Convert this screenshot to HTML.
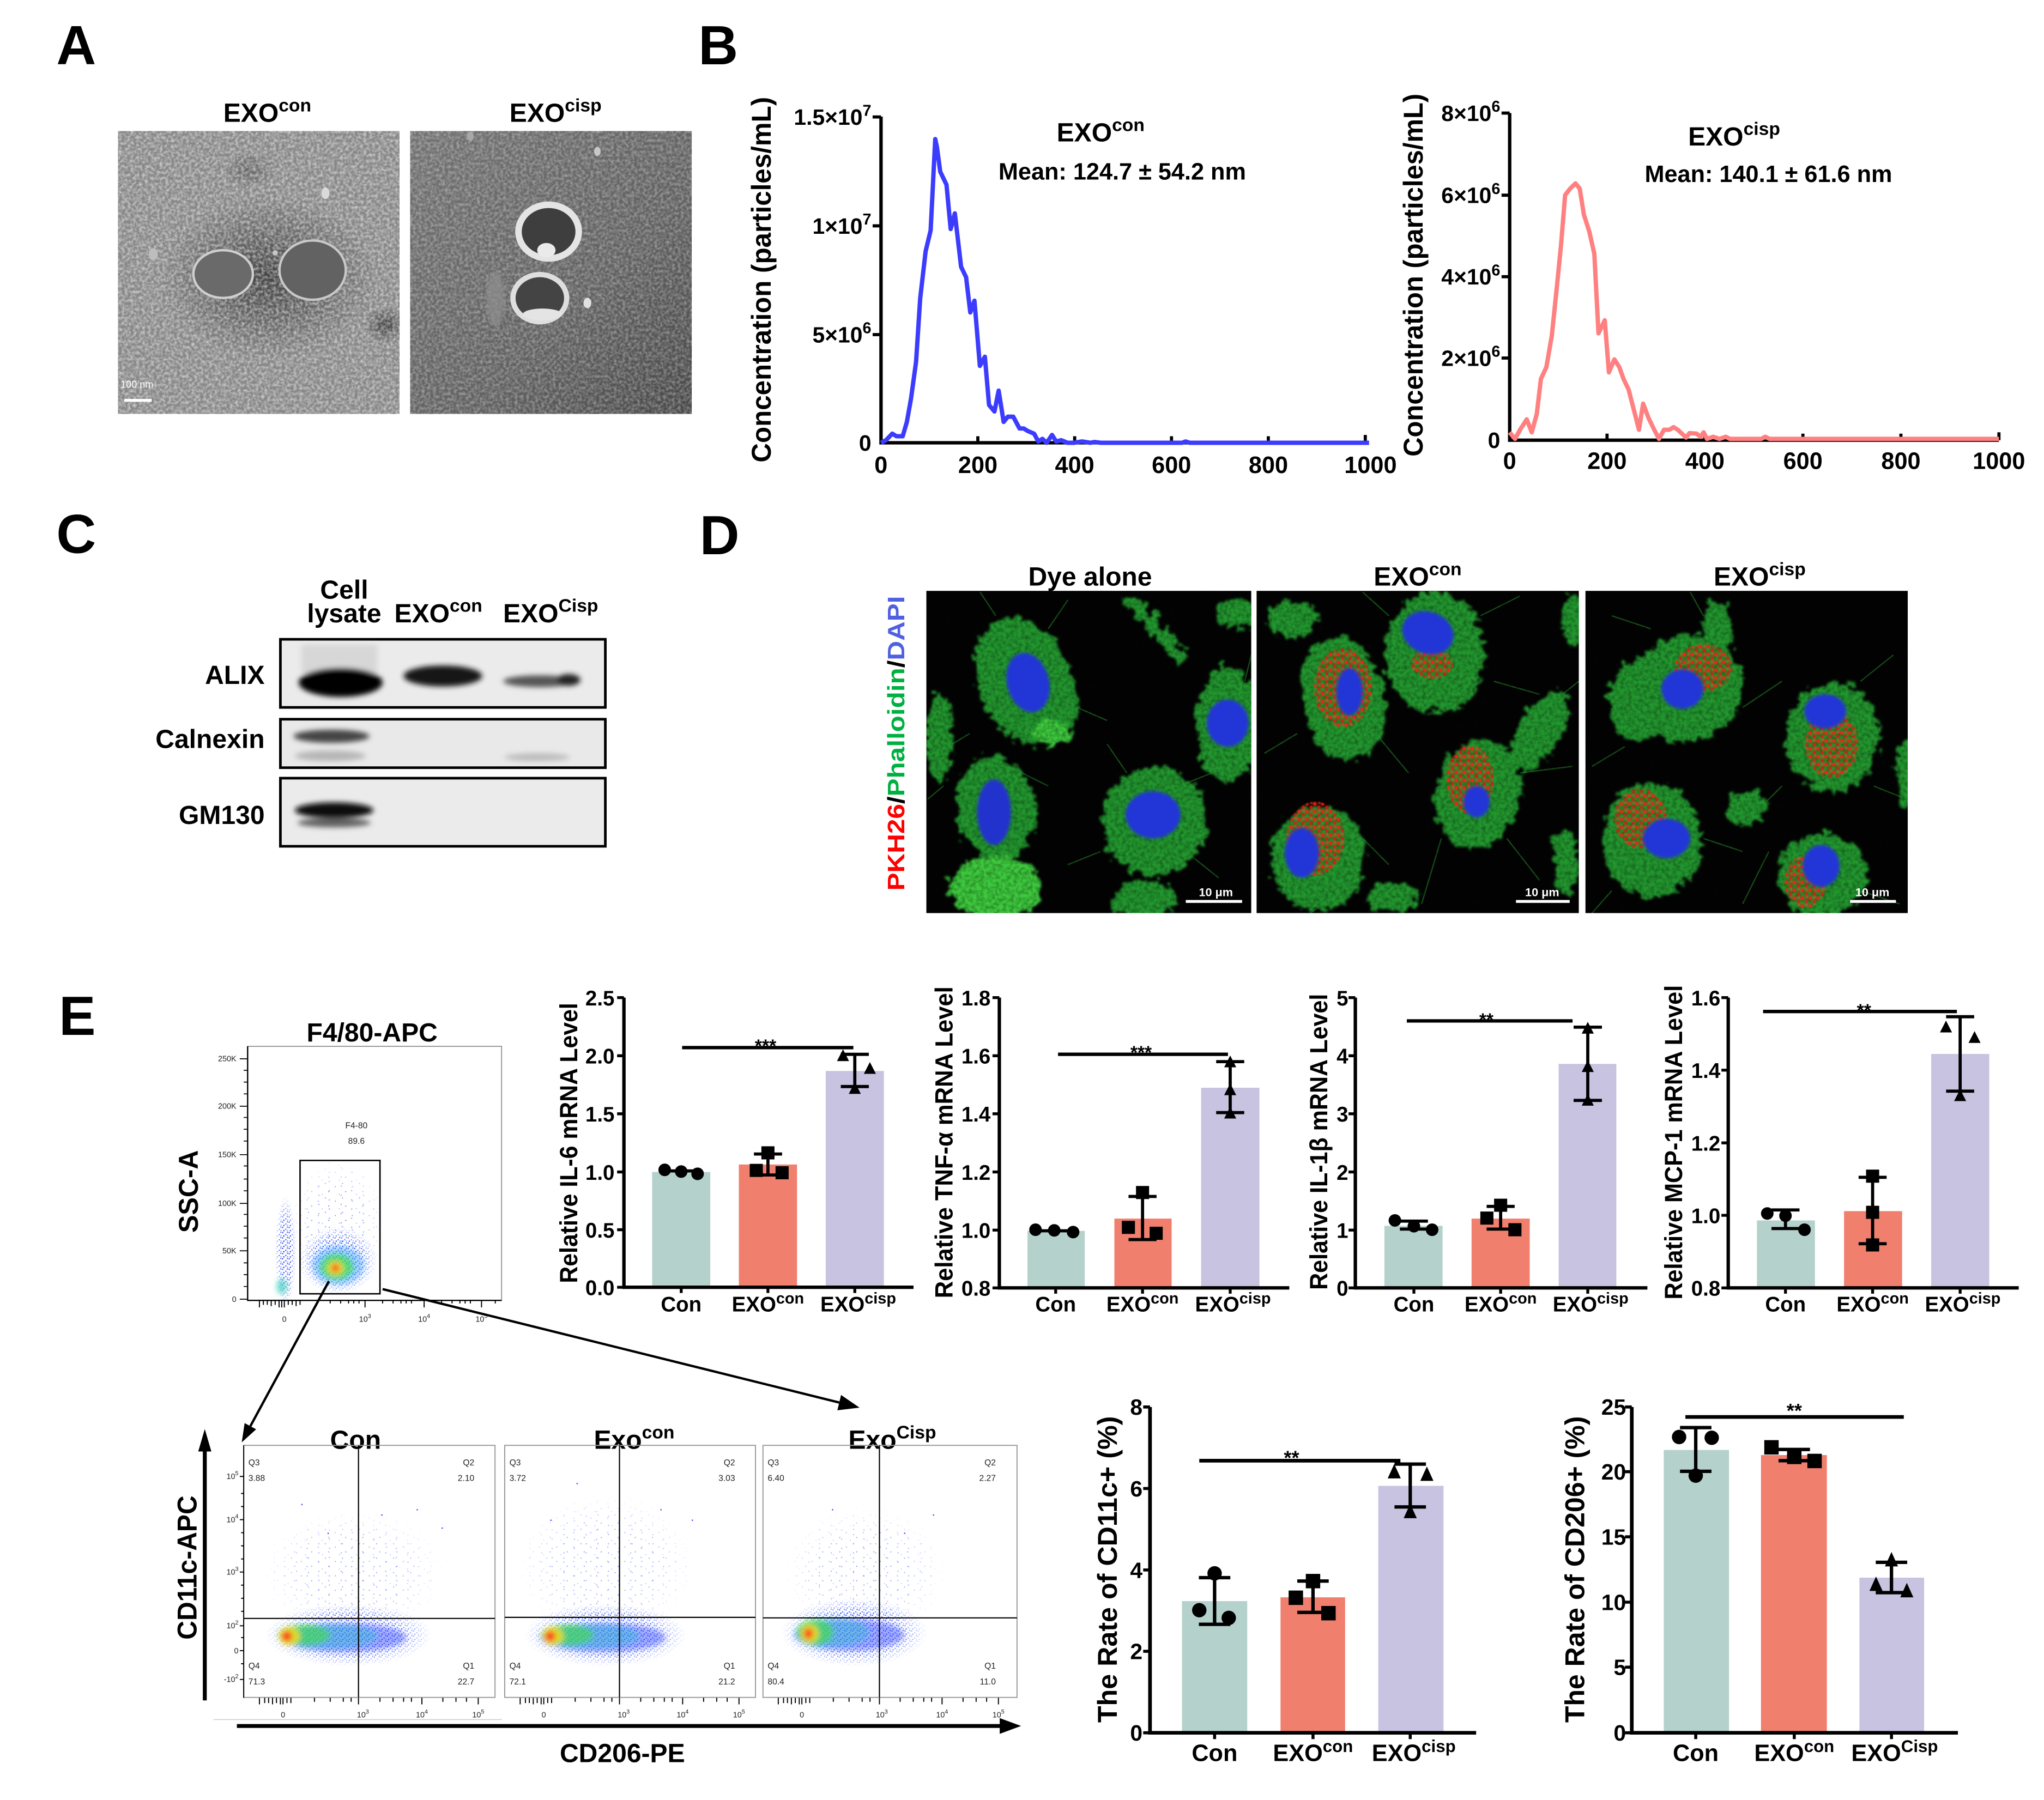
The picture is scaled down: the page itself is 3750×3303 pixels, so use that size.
<!DOCTYPE html>
<html><head><meta charset="utf-8"><style>html,body{margin:0;padding:0;background:#fff}svg{display:block}</style></head>
<body>
<svg xmlns="http://www.w3.org/2000/svg" width="3750" height="3303" viewBox="0 0 1560 1374" preserveAspectRatio="none" font-family="'Liberation Sans', Arial, sans-serif" font-weight="bold">
<defs>
  <filter id="grain" x="0" y="0" width="1" height="1">
    <feTurbulence type="fractalNoise" baseFrequency="0.45" numOctaves="2" seed="7" result="n"/>
    <feColorMatrix in="n" type="matrix" values="0 0 0 0 1  0 0 0 0 1  0 0 0 0 1  0 0 0 1.8 -0.6" result="w"/>
    <feComposite in="w" in2="SourceGraphic" operator="in"/>
  </filter>
  <filter id="grainD" x="0" y="0" width="1" height="1">
    <feTurbulence type="fractalNoise" baseFrequency="0.35" numOctaves="2" seed="11" result="n"/>
    <feColorMatrix in="n" type="matrix" values="0 0 0 0 0  0 0 0 0 0  0 0 0 0 0  0 0 0 1.6 -0.55" result="w"/>
    <feComposite in="w" in2="SourceGraphic" operator="in"/>
  </filter>
  <filter id="b1" x="-30%" y="-30%" width="160%" height="160%"><feGaussianBlur stdDeviation="1.2"/></filter>
  <filter id="b05" x="-30%" y="-30%" width="160%" height="160%"><feGaussianBlur stdDeviation="0.5"/></filter>
  <filter id="b2" x="-30%" y="-30%" width="160%" height="160%"><feGaussianBlur stdDeviation="2"/></filter>
  <filter id="rough" x="-20%" y="-20%" width="140%" height="140%">
    <feTurbulence type="turbulence" baseFrequency="0.11" numOctaves="2" seed="4" result="t"/>
    <feDisplacementMap in="SourceGraphic" in2="t" scale="12" xChannelSelector="R" yChannelSelector="G" result="d"/>
    <feGaussianBlur in="d" stdDeviation="0.9"/>
  </filter>
  <radialGradient id="emDark"><stop offset="0" stop-color="#303030" stop-opacity="0.8"/><stop offset="1" stop-color="#303030" stop-opacity="0"/></radialGradient>
  <linearGradient id="em2g" x1="0" y1="0" x2="1" y2="1"><stop offset="0" stop-color="#727272"/><stop offset="0.6" stop-color="#616161"/><stop offset="1" stop-color="#484848"/></linearGradient>
  <radialGradient id="fade"><stop offset="0" stop-color="#fff"/><stop offset="0.6" stop-color="#fff" stop-opacity="0.8"/><stop offset="1" stop-color="#fff" stop-opacity="0"/></radialGradient>
  <mask id="mFade" maskContentUnits="objectBoundingBox"><rect x="0" y="0" width="1" height="1" fill="url(#fade)"/></mask>
  <pattern id="pd" width="5" height="4" patternUnits="userSpaceOnUse">
    <rect x="0.3" y="0.5" width="0.9" height="0.9" fill="#1a22ff"/><rect x="2.7" y="1.9" width="0.9" height="0.9" fill="#2a40ff"/>
    <rect x="1.2" y="3.0" width="0.9" height="0.9" fill="#0010e0"/><rect x="3.9" y="0.2" width="0.9" height="0.9" fill="#3050ff"/>
    <rect x="4.1" y="2.9" width="0.8" height="0.8" fill="#20a0ff"/>
  </pattern>
  <pattern id="ps" width="13" height="11" patternUnits="userSpaceOnUse">
    <rect x="1" y="1" width="0.8" height="0.8" fill="#2030ff"/><rect x="8.5" y="3.5" width="0.8" height="0.8" fill="#3048ff"/>
    <rect x="3.5" y="7.2" width="0.8" height="0.8" fill="#1020e0"/><rect x="11.6" y="9.4" width="0.7" height="0.7" fill="#4070ff"/>
  </pattern>
  <pattern id="ps2" width="17" height="7" patternUnits="userSpaceOnUse">
    <rect x="5" y="2" width="0.8" height="0.8" fill="#2030ff"/><rect x="13" y="5.5" width="0.8" height="0.8" fill="#1828f0"/>
  </pattern>
  <pattern id="pr" width="6" height="6" patternUnits="userSpaceOnUse">
    <circle cx="1.5" cy="1.5" r="1.5" fill="#ff1a0a"/><circle cx="4.6" cy="4.2" r="1.3" fill="#f01010"/><circle cx="4.8" cy="0.9" r="0.8" fill="#ff4030"/>
  </pattern>
  <clipPath id="cA1"><rect x="90" y="100" width="215" height="216"/></clipPath>
  <clipPath id="cA2"><rect x="313" y="100" width="215" height="216"/></clipPath>
  <clipPath id="cD1"><rect x="707" y="451" width="248" height="246"/></clipPath>
  <clipPath id="cD2"><rect x="959" y="451" width="246" height="246"/></clipPath>
  <clipPath id="cD3"><rect x="1210" y="451" width="246" height="246"/></clipPath>
  <clipPath id="cF0"><rect x="189" y="799" width="194" height="194"/></clipPath>
  <clipPath id="cF1"><rect x="186" y="1103" width="192" height="193"/></clipPath>
  <clipPath id="cF2"><rect x="385" y="1103" width="192" height="193"/></clipPath>
  <clipPath id="cF3"><rect x="582" y="1103" width="194" height="193"/></clipPath>
</defs>
<rect width="1560" height="1374" fill="#fff"/>

<!-- Panel letters -->
<text x="43" y="49" font-size="42">A</text>
<text x="533" y="49" font-size="42">B</text>
<text x="43" y="422" font-size="42">C</text>
<text x="534" y="423" font-size="42">D</text>
<text x="45" y="790" font-size="42">E</text>

<!-- ================= Panel A ================= -->
<text x="204" y="93" font-size="20" text-anchor="middle">EXO<tspan font-size="14" dy="-8">con</tspan></text>
<text x="424" y="93" font-size="20" text-anchor="middle">EXO<tspan font-size="14" dy="-8">cisp</tspan></text>
<g clip-path="url(#cA1)">
  <rect x="90" y="100" width="215" height="216" fill="#878787"/>
  <ellipse cx="205" cy="212" rx="82" ry="62" fill="url(#emDark)"/>
  <ellipse cx="294" cy="248" rx="16" ry="14" fill="url(#emDark)"/>
  <ellipse cx="190" cy="130" rx="20" ry="14" fill="url(#emDark)" opacity="0.5"/>
  <rect x="90" y="100" width="215" height="216" fill="#000" filter="url(#grain)" opacity="0.6"/>
  <ellipse cx="170.3" cy="209.2" rx="22.7" ry="18.2" fill="#6a6a6a" stroke="#cfcfcf" stroke-width="1.8"/>
  <ellipse cx="238.6" cy="206.2" rx="25.3" ry="22.6" fill="#626262" stroke="#c8c8c8" stroke-width="1.8"/>
  <ellipse cx="248.4" cy="147.5" rx="3" ry="4.5" fill="#dadada"/>
  <ellipse cx="117" cy="194" rx="3.5" ry="4.5" fill="#bdbdbd"/>
  <circle cx="210" cy="193" r="2" fill="#c8c8c8"/>
  <text x="92" y="296" font-size="7.5" fill="#fff" font-weight="normal">100 nm</text>
  <rect x="94.8" y="304.5" width="21" height="2.2" fill="#fff"/>
</g>
<g clip-path="url(#cA2)">
  <rect x="313" y="100" width="215" height="216" fill="url(#em2g)"/>
  <rect x="313" y="100" width="215" height="216" fill="#000" filter="url(#grain)" opacity="0.4"/>
  <ellipse cx="378" cy="228" rx="7" ry="21" fill="#8e8e8e" opacity="0.7" filter="url(#b1)"/>
  <ellipse cx="418.7" cy="176.8" rx="23" ry="20.5" fill="#3e3e3e" stroke="#e4e4e4" stroke-width="5"/>
  <ellipse cx="417" cy="191" rx="7" ry="5.5" fill="#eaeaea"/>
  <ellipse cx="412" cy="227.6" rx="20.5" ry="18" fill="#444" stroke="#dedede" stroke-width="4"/>
  <ellipse cx="414" cy="240" rx="15" ry="4.5" fill="#e4e4e4"/>
  <ellipse cx="448.3" cy="231.3" rx="3" ry="4" fill="#e0e0e0"/>
  <ellipse cx="455.9" cy="115.6" rx="2.5" ry="3.5" fill="#c8c8c8"/>
  <ellipse cx="359" cy="104" rx="2.5" ry="3.5" fill="#a8a8a8"/>
</g>

<!-- ================= Panel B (blue) ================= -->
<text transform="translate(588.2,213.5) rotate(-90)" font-size="21" text-anchor="middle" textLength="279" lengthAdjust="spacingAndGlyphs">Concentration (particles/mL)</text>
<path d="M672.4,89 V338 H1044" stroke="#000" stroke-width="2.6" fill="none"/>
<path d="M666,89.3 H672.4 M666,172.4 H672.4 M666,255.4 H672.4 M746.3,338 V333 M820.2,338 V333 M894.1,338 V333 M968,338 V333 M1042,338 V332" stroke="#000" stroke-width="2.4"/>
<g font-size="17" text-anchor="end">
  <text x="665" y="95.3">1.5×10<tspan font-size="12" dy="-7">7</tspan></text>
  <text x="665" y="178.4">1×10<tspan font-size="12" dy="-7">7</tspan></text>
  <text x="665" y="261.4">5×10<tspan font-size="12" dy="-7">6</tspan></text>
  <text x="665" y="344">0</text>
</g>
<g font-size="18" text-anchor="middle">
  <text x="672.4" y="361">0</text><text x="746.3" y="361">200</text><text x="820.2" y="361">400</text>
  <text x="894.1" y="361">600</text><text x="968" y="361">800</text><text x="1046" y="361">1000</text>
</g>
<g transform="translate(561.6,62.4) scale(0.31837,0.19898)">
<polyline points="348,1385 360,1375 375,1350 385,1360 400,1360 410,1305 420,1215 432,1075 442,830 455,650 467,570 478,220 482,250 490,345 505,395 515,565 525,505 540,710 552,750 562,885 572,840 585,1090 597,1055 607,1240 620,1265 630,1185 642,1305 652,1285 665,1285 680,1330 690,1330 700,1340 715,1350 725,1380 735,1370 745,1385 758,1355 768,1380 780,1375 795,1385 810,1385 830,1380 850,1385 860,1382 875,1385 1070,1385 1078,1380 1088,1385 1518,1385" fill="none" stroke="#3c3cff" stroke-width="8" stroke-linejoin="round" vector-effect="non-scaling-stroke"/>
</g>
<text x="840" y="108" font-size="20" text-anchor="middle">EXO<tspan font-size="14" dy="-8">con</tspan></text>
<text x="856.5" y="137" font-size="18" text-anchor="middle">Mean: 124.7 ± 54.2 nm</text>

<!-- ================= Panel B (red) ================= -->
<text transform="translate(1085.8,210) rotate(-90)" font-size="21" text-anchor="middle" textLength="277" lengthAdjust="spacingAndGlyphs">Concentration (particles/mL)</text>
<path d="M1152.2,86.3 V336 H1525.6" stroke="#000" stroke-width="2.6" fill="none"/>
<path d="M1146,86.3 H1152.2 M1146,149 H1152.2 M1146,211.2 H1152.2 M1146,273.3 H1152.2 M1226.5,336 V331 M1301.2,336 V331 M1376,336 V331 M1450.8,336 V331 M1525.6,336 V330" stroke="#000" stroke-width="2.4"/>
<g font-size="17" text-anchor="end">
  <text x="1145" y="92.3">8×10<tspan font-size="12" dy="-7">6</tspan></text>
  <text x="1145" y="155">6×10<tspan font-size="12" dy="-7">6</tspan></text>
  <text x="1145" y="217.2">4×10<tspan font-size="12" dy="-7">6</tspan></text>
  <text x="1145" y="279.3">2×10<tspan font-size="12" dy="-7">6</tspan></text>
  <text x="1145" y="342">0</text>
</g>
<g font-size="18" text-anchor="middle">
  <text x="1152.2" y="358">0</text><text x="1226.5" y="358">200</text><text x="1301.2" y="358">400</text>
  <text x="1376" y="358">600</text><text x="1450.8" y="358">800</text><text x="1525.6" y="358">1000</text>
</g>
<g transform="translate(1060.8,62.4) scale(0.31837,0.19898)">
<polyline points="287,1345 300,1370 312,1335 328,1295 340,1345 352,1275 362,1140 375,1095 388,975 400,790 410,630 420,435 432,410 445,390 455,410 465,510 478,575 490,660 500,965 515,915 525,1115 538,1065 550,1095 560,1140 572,1180 585,1260 597,1335 607,1235 620,1290 632,1330 645,1370 657,1335 670,1335 680,1325 690,1335 700,1350 710,1365 718,1348 735,1350 745,1362 752,1345 760,1370 775,1362 790,1370 805,1362 815,1370 890,1370 900,1362 910,1370 1460,1370" fill="none" stroke="#ff8080" stroke-width="8" stroke-linejoin="round" vector-effect="non-scaling-stroke"/>
</g>
<text x="1323.5" y="111" font-size="20" text-anchor="middle">EXO<tspan font-size="14" dy="-8">cisp</tspan></text>
<text x="1349.7" y="139" font-size="18" text-anchor="middle">Mean: 140.1 ± 61.6 nm</text>

<!-- ================= Panel C ================= -->
<g font-size="20">
  <text x="262.7" y="457" text-anchor="middle">Cell</text>
  <text x="262.7" y="475" text-anchor="middle">lysate</text>
  <text x="301" y="475">EXO<tspan font-size="14" dy="-8">con</tspan></text>
  <text x="384" y="475">EXO<tspan font-size="14" dy="-8">Cisp</tspan></text>
  <text x="202" y="522" text-anchor="end">ALIX</text>
  <text x="202" y="571" text-anchor="end">Calnexin</text>
  <text x="202" y="629" text-anchor="end">GM130</text>
</g>
<rect x="214" y="488" width="248" height="52" fill="#ebebeb" stroke="#000" stroke-width="2"/>
<rect x="214" y="549" width="248" height="37" fill="#e9e9e9" stroke="#000" stroke-width="2"/>
<rect x="214" y="594" width="248" height="52" fill="#ebebeb" stroke="#000" stroke-width="2"/>
<g filter="url(#b2)">
  <rect x="230" y="492" width="58" height="22" fill="#c4c4c4" opacity="0.5"/>
  <ellipse cx="260" cy="521" rx="32" ry="11" fill="#060606"/>
  <ellipse cx="338" cy="516" rx="30" ry="8" fill="#121212"/>
  <ellipse cx="412" cy="520" rx="28" ry="4.5" fill="#555"/>
  <ellipse cx="434" cy="519" rx="9" ry="4.5" fill="#222"/>
  <ellipse cx="253" cy="562" rx="29" ry="5" fill="#454545"/>
  <ellipse cx="252" cy="577" rx="27" ry="4" fill="#a0a0a0" opacity="0.7"/>
  <ellipse cx="410" cy="578" rx="25" ry="3" fill="#b0b0b0" opacity="0.8"/>
  <ellipse cx="255" cy="618.5" rx="30" ry="6" fill="#070707"/>
  <ellipse cx="255" cy="628" rx="28" ry="3.5" fill="#606060"/>
</g>

<!-- ================= Panel D ================= -->
<text x="832" y="447" font-size="20" text-anchor="middle">Dye alone</text>
<text x="1082" y="447" font-size="20" text-anchor="middle">EXO<tspan font-size="14" dy="-8">con</tspan></text>
<text x="1343" y="447" font-size="20" text-anchor="middle">EXO<tspan font-size="14" dy="-8">cisp</tspan></text>
<text transform="translate(690.2,567.4) rotate(-90)" font-size="18" text-anchor="middle" textLength="225" lengthAdjust="spacingAndGlyphs"><tspan fill="#ff0000">PKH26</tspan>/<tspan fill="#00b040">Phalloidin</tspan>/<tspan fill="#5060e0">DAPI</tspan></text>

<g clip-path="url(#cD1)">
  <rect x="707" y="451" width="248" height="246" fill="#030303"/>
  <g stroke="#2a9a30" stroke-width="1" opacity="0.5">
    <path d="M760,470 L748,452 M800,480 L815,458 M822,540 L845,550 M740,560 L715,575 M860,590 L845,568 M900,600 L925,590 M840,650 L815,660 M905,650 L930,670 M950,520 L955,500 M780,590 L800,600 M720,600 L708,610"/>
  </g>
  <g fill="#24962e" filter="url(#rough)">
    <ellipse cx="780" cy="518" rx="36" ry="52" transform="rotate(-25 780 518)"/>
    <path d="M852,452 L870,455 L905,500 L896,505 Z"/>
    <ellipse cx="934" cy="550" rx="24" ry="44"/>
    <ellipse cx="942" cy="466" rx="16" ry="11"/>
    <ellipse cx="757" cy="614" rx="30" ry="40" transform="rotate(-10 757 614)"/>
    <ellipse cx="878" cy="624" rx="40" ry="42"/>
    <ellipse cx="870" cy="684" rx="24" ry="16"/>
    <ellipse cx="714" cy="560" rx="10" ry="34"/>
  </g>
  <g fill="#3cc83c" filter="url(#rough)">
    <ellipse cx="757" cy="674" rx="36" ry="24"/>
    <ellipse cx="800" cy="556" rx="14" ry="10"/>
  </g>
  <rect x="707" y="451" width="248" height="246" fill="#000" filter="url(#grainD)" opacity="0.4"/>
  <g filter="url(#b1)">
    <ellipse cx="784.6" cy="521" rx="16" ry="23" fill="#2234d6" transform="rotate(-15 784.6 521)"/>
    <ellipse cx="937" cy="552" rx="16" ry="18" fill="#2234d6"/>
    <ellipse cx="758.7" cy="620" rx="13" ry="25" fill="#2030cc"/>
    <ellipse cx="880" cy="622" rx="21" ry="18" fill="#2234d6"/>
  </g>
  <text x="928" y="684" font-size="9" fill="#fff" text-anchor="middle">10 μm</text>
  <rect x="905" y="687" width="43" height="2.2" fill="#fff"/>
</g>

<g clip-path="url(#cD2)">
  <rect x="959" y="451" width="246" height="246" fill="#030303"/>
  <g stroke="#2a9a30" stroke-width="1" opacity="0.5">
    <path d="M1060,470 L1040,452 M1130,470 L1160,455 M1140,520 L1175,530 M990,560 L965,575 M1050,560 L1075,590 M1160,590 L1200,585 M1150,640 L1175,672 M1040,640 L1060,660 M1100,640 L1085,690 M1010,690 L1000,697 M1180,540 L1205,520"/>
  </g>
  <g fill="#24962e" filter="url(#rough)">
    <ellipse cx="1092" cy="495" rx="38" ry="46"/>
    <ellipse cx="1198" cy="470" rx="10" ry="20"/>
    <ellipse cx="1022" cy="530" rx="32" ry="48" transform="rotate(-10 1022 530)"/>
    <ellipse cx="983" cy="470" rx="20" ry="14"/>
    <ellipse cx="1125" cy="603" rx="32" ry="42" transform="rotate(15 1125 603)"/>
    <ellipse cx="1172" cy="555" rx="16" ry="34" transform="rotate(30 1172 555)"/>
    <ellipse cx="1003" cy="652" rx="36" ry="40"/>
    <ellipse cx="1060" cy="682" rx="20" ry="12"/>
    <ellipse cx="1192" cy="655" rx="9" ry="26"/>
  </g>
  <rect x="959" y="451" width="246" height="246" fill="#000" filter="url(#grainD)" opacity="0.4"/>
  <g filter="url(#b05)">
    <ellipse cx="1025" cy="525" rx="22" ry="30" fill="url(#pr)"/>
    <ellipse cx="1093" cy="507" rx="16" ry="11" fill="url(#pr)"/>
    <ellipse cx="1122" cy="595" rx="18" ry="26" fill="url(#pr)"/>
    <ellipse cx="1004" cy="640" rx="22" ry="28" fill="url(#pr)"/>
  </g>
  <g filter="url(#b1)">
    <ellipse cx="1089.8" cy="483" rx="20" ry="16" fill="#2234d6" transform="rotate(20 1089.8 483)"/>
    <ellipse cx="1030" cy="528" rx="10" ry="18" fill="#2234d6"/>
    <ellipse cx="1127" cy="612" rx="10" ry="12" fill="#2234d6"/>
    <ellipse cx="993.6" cy="651" rx="13" ry="19" fill="#2234d6"/>
  </g>
  <text x="1177" y="684" font-size="9" fill="#fff" text-anchor="middle">10 μm</text>
  <rect x="1157" y="687" width="41" height="2.2" fill="#fff"/>
</g>

<g clip-path="url(#cD3)">
  <rect x="1210" y="451" width="246" height="246" fill="#030303"/>
  <g stroke="#2a9a30" stroke-width="1" opacity="0.5">
    <path d="M1300,470 L1290,452 M1260,480 L1230,470 M1330,540 L1360,520 M1240,570 L1215,585 M1420,520 L1445,500 M1360,600 L1340,620 M1430,600 L1455,610 M1300,640 L1330,650 M1350,650 L1330,690 M1420,680 L1450,690 M1230,680 L1215,697"/>
  </g>
  <g fill="#24962e" filter="url(#rough)">
    <ellipse cx="1284" cy="522" rx="44" ry="40" transform="rotate(-30 1284 522)"/>
    <ellipse cx="1308" cy="478" rx="12" ry="22"/>
    <ellipse cx="1245" cy="532" rx="20" ry="30"/>
    <ellipse cx="1396" cy="560" rx="36" ry="42"/>
    <ellipse cx="1452" cy="588" rx="8" ry="26"/>
    <ellipse cx="1258" cy="638" rx="38" ry="44"/>
    <ellipse cx="1388" cy="665" rx="34" ry="32"/>
    <ellipse cx="1330" cy="614" rx="16" ry="12"/>
  </g>
  <rect x="1210" y="451" width="246" height="246" fill="#000" filter="url(#grainD)" opacity="0.4"/>
  <g filter="url(#b05)">
    <ellipse cx="1300" cy="510" rx="22" ry="18" fill="url(#pr)"/>
    <ellipse cx="1398" cy="568" rx="20" ry="26" fill="url(#pr)"/>
    <ellipse cx="1252" cy="625" rx="20" ry="23" fill="url(#pr)"/>
    <ellipse cx="1378" cy="673" rx="16" ry="20" fill="url(#pr)"/>
  </g>
  <g filter="url(#b1)">
    <ellipse cx="1284" cy="526" rx="16" ry="15" fill="#2234d6"/>
    <ellipse cx="1393" cy="543" rx="16" ry="13" fill="#2234d6"/>
    <ellipse cx="1272" cy="640" rx="18" ry="15" fill="#2234d6"/>
    <ellipse cx="1390" cy="661" rx="14" ry="16" fill="#2234d6"/>
  </g>
  <text x="1429" y="684" font-size="9" fill="#fff" text-anchor="middle">10 μm</text>
  <rect x="1412" y="687" width="35" height="2.2" fill="#fff"/>
</g>

<!-- ================= Panel E: flow gating plot ================= -->
<text x="284" y="795" font-size="20" text-anchor="middle">F4/80-APC</text>
<text transform="translate(151,909.5) rotate(-90)" font-size="21" text-anchor="middle" textLength="63" lengthAdjust="spacingAndGlyphs">SSC-A</text>
<rect x="189" y="798.7" width="193.8" height="193.9" fill="none" stroke="#999" stroke-width="0.8"/>
<g clip-path="url(#cF0)">
  <ellipse cx="218" cy="955" rx="8" ry="42" fill="url(#pd)" mask="url(#mFade)"/>
  <g opacity="0.6">
    <ellipse cx="258" cy="935" rx="36" ry="50" fill="url(#ps)" mask="url(#mFade)"/>
    <ellipse cx="258" cy="935" rx="36" ry="50" fill="url(#ps2)" mask="url(#mFade)"/>
  </g>
  <ellipse cx="258" cy="962" rx="30" ry="26" fill="url(#pd)" mask="url(#mFade)"/>
  <g filter="url(#b2)">
    <ellipse cx="258" cy="966" rx="20" ry="15" fill="#30a0ff" opacity="0.45"/>
    <ellipse cx="257" cy="967" rx="13" ry="10" fill="#40e040" opacity="0.7"/>
    <ellipse cx="256" cy="968" rx="6" ry="5" fill="#e8e020"/>
    <ellipse cx="256" cy="968" rx="3" ry="3" fill="#ff3020"/>
    <ellipse cx="215" cy="982" rx="4" ry="6" fill="#40d0c0" opacity="0.7"/>
  </g>
</g>
<rect x="229" y="885.8" width="61" height="101.8" fill="none" stroke="#000" stroke-width="1.1"/>
<g font-size="6.5" font-weight="normal" fill="#222" text-anchor="middle">
  <text x="272" y="861.3">F4-80</text><text x="272" y="873.2">89.6</text>
</g>
<path d="M189,798.7 V992.6 H382.8" stroke="#000" stroke-width="1" fill="none"/>
<path d="M183,808.2 H189 M183,844.4 H189 M183,881.4 H189 M183,918.6 H189 M183,954.8 H189 M183,991.7 H189 M186,826 H189 M186,862 H189 M186,900 H189 M186,936 H189 M186,973 H189 M186,817 H189 M186,835 H189 M186,853 H189 M186,871 H189 M186,890 H189 M186,909 H189 M186,927 H189 M186,945 H189 M186,964 H189 M186,982 H189" stroke="#000" stroke-width="0.7"/>
<path d="M198,992.6 V998 M201,992.6 V996 M204,992.6 V996 M207,992.6 V997 M210,992.6 V996 M213,992.6 V998 M215,992.6 V998 M217,992.6 V998 M220,992.6 V996 M223,992.6 V996 M226,992.6 V997 M229,992.6 V996 M252,992.6 V995 M260,992.6 V995 M266,992.6 V995 M270,992.6 V995 M274,992.6 V995 M278.6,992.6 V998 M292,992.6 V995 M300,992.6 V995 M306,992.6 V995 M310,992.6 V995 M314,992.6 V995 M323.7,992.6 V998 M337,992.6 V995 M345,992.6 V995 M351,992.6 V995 M355,992.6 V995 M359,992.6 V995 M367.5,992.6 V998 M378,992.6 V995" stroke="#000" stroke-width="0.8"/>
<g font-size="6" font-weight="normal" fill="#222">
  <g text-anchor="end">
    <text x="180.4" y="810.2">250K</text><text x="180.4" y="846.4">200K</text><text x="180.4" y="883.4">150K</text>
    <text x="180.4" y="920.6">100K</text><text x="180.4" y="956.8">50K</text><text x="180.4" y="993.7">0</text>
  </g>
  <g text-anchor="middle">
    <text x="217" y="1009">0</text>
    <text x="278.6" y="1009">10<tspan font-size="4.5" dy="-3">3</tspan></text>
    <text x="323.7" y="1009">10<tspan font-size="4.5" dy="-3">4</tspan></text>
    <text x="367.5" y="1009">10<tspan font-size="4.5" dy="-3">5</tspan></text>
  </g>
</g>
<!-- arrows -->
<path d="M251,978 L191.1,1088.6" stroke="#000" stroke-width="1.8"/>
<polygon points="184.5,1101 195.5,1091 186.7,1086.3" fill="#000"/>
<path d="M292,984 L640.5,1070.6" stroke="#000" stroke-width="1.8"/>
<polygon points="656,1074.5 639.1,1076.5 641.9,1064.8" fill="#000"/>

<!-- ================= Panel E: CD11c/CD206 flow plots ================= -->
<text x="271.4" y="1106" font-size="20" text-anchor="middle">Con</text>
<text x="484" y="1106" font-size="20" text-anchor="middle">Exo<tspan font-size="14" dy="-8">con</tspan></text>
<text x="681" y="1106" font-size="20" text-anchor="middle">Exo<tspan font-size="14" dy="-8">Cisp</tspan></text>
<text transform="translate(150,1196.6) rotate(-90)" font-size="21" text-anchor="middle" textLength="110" lengthAdjust="spacingAndGlyphs">CD11c-APC</text>
<text x="475" y="1345" font-size="20" text-anchor="middle">CD206-PE</text>
<path d="M156.3,1298 V1106" stroke="#000" stroke-width="3"/>
<polygon points="156.3,1090.8 151.3,1108 161.3,1108" fill="#000"/>
<path d="M180.8,1317.5 H765" stroke="#000" stroke-width="3"/>
<polygon points="779.3,1317.5 763,1311.5 763,1323.5" fill="#000"/>
<path d="M163,1312.6 H383" stroke="#ccc" stroke-width="0.6"/>

<!-- plot 1 -->
<g clip-path="url(#cF1)">
  <g opacity="0.5">
    <ellipse cx="270" cy="1200" rx="70" ry="48" fill="url(#ps)" mask="url(#mFade)"/>
    <ellipse cx="270" cy="1200" rx="70" ry="48" fill="url(#ps2)" mask="url(#mFade)"/>
  </g>
  <ellipse cx="266" cy="1248" rx="64" ry="24" fill="url(#pd)" mask="url(#mFade)"/>
  <g filter="url(#b2)">
    <ellipse cx="262" cy="1250" rx="48" ry="11" fill="#2a40ff" opacity="0.45"/>
    <ellipse cx="250" cy="1249" rx="38" ry="9" fill="#30c0d0" opacity="0.45"/>
    <ellipse cx="232" cy="1248" rx="20" ry="8" fill="#40e040" opacity="0.6"/>
    <ellipse cx="221" cy="1249" rx="8" ry="7" fill="#e8e020" opacity="0.9"/>
    <ellipse cx="219" cy="1249" rx="4" ry="4" fill="#ff3020"/>
  </g>
  <g fill="#2030ff"><rect x="230" y="1148" width="0.9" height="0.9"/><rect x="291" y="1156" width="0.9" height="0.9"/><rect x="318" y="1152" width="0.9" height="0.9"/><rect x="250" y="1170" width="0.9" height="0.9"/><rect x="337" y="1166" width="0.9" height="0.9"/></g>
</g>
<rect x="186" y="1103.3" width="191.8" height="192.4" fill="none" stroke="#999" stroke-width="0.8"/>
<path d="M273.6,1103.3 V1295.7 M186,1235.4 H377.8" stroke="#000" stroke-width="0.9"/>
<!-- plot 2 -->
<g clip-path="url(#cF2)">
  <g opacity="0.5">
    <ellipse cx="462" cy="1195" rx="68" ry="55" fill="url(#ps)" mask="url(#mFade)"/>
    <ellipse cx="462" cy="1195" rx="68" ry="55" fill="url(#ps2)" mask="url(#mFade)"/>
  </g>
  <ellipse cx="462" cy="1248" rx="62" ry="24" fill="url(#pd)" mask="url(#mFade)"/>
  <g filter="url(#b2)">
    <ellipse cx="460" cy="1250" rx="48" ry="11" fill="#2a40ff" opacity="0.45"/>
    <ellipse cx="450" cy="1249" rx="38" ry="9" fill="#30c0d0" opacity="0.45"/>
    <ellipse cx="433" cy="1248" rx="20" ry="8" fill="#40e040" opacity="0.6"/>
    <ellipse cx="422" cy="1249" rx="8" ry="7" fill="#e8e020" opacity="0.9"/>
    <ellipse cx="420" cy="1249" rx="4" ry="4" fill="#ff3020"/>
  </g>
  <g fill="#2030ff"><rect x="440" y="1132" width="0.9" height="0.9"/><rect x="504" y="1152" width="0.9" height="0.9"/><rect x="528" y="1160" width="0.9" height="0.9"/><rect x="420" y="1160" width="0.9" height="0.9"/></g>
</g>
<rect x="385.2" y="1103.3" width="191.4" height="192.4" fill="none" stroke="#999" stroke-width="0.8"/>
<path d="M472.8,1103.3 V1295.7 M385.2,1234.6 H576.6" stroke="#000" stroke-width="0.9"/>
<!-- plot 3 -->
<g clip-path="url(#cF3)">
  <g opacity="0.5">
    <ellipse cx="660" cy="1200" rx="62" ry="50" fill="url(#ps)" mask="url(#mFade)"/>
    <ellipse cx="660" cy="1200" rx="62" ry="50" fill="url(#ps2)" mask="url(#mFade)"/>
  </g>
  <ellipse cx="652" cy="1246" rx="56" ry="26" fill="url(#pd)" mask="url(#mFade)"/>
  <g filter="url(#b2)">
    <ellipse cx="648" cy="1248" rx="42" ry="12" fill="#2a40ff" opacity="0.45"/>
    <ellipse cx="635" cy="1246" rx="28" ry="11" fill="#30c0d0" opacity="0.45"/>
    <ellipse cx="622" cy="1246" rx="14" ry="10" fill="#40e040" opacity="0.65"/>
    <ellipse cx="618" cy="1247" rx="7" ry="7" fill="#e8e020" opacity="0.9"/>
    <ellipse cx="617" cy="1247" rx="3.5" ry="4" fill="#ff3020"/>
  </g>
  <g fill="#2030ff"><rect x="635" y="1152" width="0.9" height="0.9"/><rect x="712" y="1156" width="0.9" height="0.9"/><rect x="690" y="1170" width="0.9" height="0.9"/></g>
</g>
<rect x="582.3" y="1103.3" width="193.9" height="192.4" fill="none" stroke="#999" stroke-width="0.8"/>
<path d="M671.2,1103.3 V1295.7 M582.3,1235 H776.2" stroke="#000" stroke-width="0.9"/>

<!-- flow quadrant labels -->
<g font-size="6.5" font-weight="normal" fill="#222">
  <text x="189.6" y="1118.6">Q3</text><text x="189.6" y="1130.5">3.88</text>
  <text x="189.6" y="1273.8">Q4</text><text x="189.6" y="1285.8">71.3</text>
  <text x="362" y="1118.6" text-anchor="end">Q2</text><text x="362" y="1130.5" text-anchor="end">2.10</text>
  <text x="362" y="1273.8" text-anchor="end">Q1</text><text x="362" y="1285.8" text-anchor="end">22.7</text>
  <text x="388.8" y="1118.6">Q3</text><text x="388.8" y="1130.5">3.72</text>
  <text x="388.8" y="1273.8">Q4</text><text x="388.8" y="1285.8">72.1</text>
  <text x="561" y="1118.6" text-anchor="end">Q2</text><text x="561" y="1130.5" text-anchor="end">3.03</text>
  <text x="561" y="1273.8" text-anchor="end">Q1</text><text x="561" y="1285.8" text-anchor="end">21.2</text>
  <text x="585.9" y="1118.6">Q3</text><text x="585.9" y="1130.5">6.40</text>
  <text x="585.9" y="1273.8">Q4</text><text x="585.9" y="1285.8">80.4</text>
  <text x="760" y="1118.6" text-anchor="end">Q2</text><text x="760" y="1130.5" text-anchor="end">2.27</text>
  <text x="760" y="1273.8" text-anchor="end">Q1</text><text x="760" y="1285.8" text-anchor="end">11.0</text>
  <g text-anchor="end" font-size="6">
    <text x="182" y="1129">10<tspan font-size="4.5" dy="-3">5</tspan></text>
    <text x="182" y="1162">10<tspan font-size="4.5" dy="-3">4</tspan></text>
    <text x="182" y="1202">10<tspan font-size="4.5" dy="-3">3</tspan></text>
    <text x="182" y="1243">10<tspan font-size="4.5" dy="-3">2</tspan></text>
    <text x="182" y="1262">0</text>
    <text x="182" y="1284">-10<tspan font-size="4.5" dy="-3">2</tspan></text>
  </g>
  <g text-anchor="middle" font-size="6">
    <text x="216" y="1311">0</text><text x="277" y="1311">10<tspan font-size="4.5" dy="-3">3</tspan></text><text x="322" y="1311">10<tspan font-size="4.5" dy="-3">4</tspan></text><text x="365" y="1311">10<tspan font-size="4.5" dy="-3">5</tspan></text>
    <text x="415" y="1311">0</text><text x="476" y="1311">10<tspan font-size="4.5" dy="-3">3</tspan></text><text x="521" y="1311">10<tspan font-size="4.5" dy="-3">4</tspan></text><text x="564" y="1311">10<tspan font-size="4.5" dy="-3">5</tspan></text>
    <text x="612" y="1311">0</text><text x="673" y="1311">10<tspan font-size="4.5" dy="-3">3</tspan></text><text x="719" y="1311">10<tspan font-size="4.5" dy="-3">4</tspan></text><text x="762" y="1311">10<tspan font-size="4.5" dy="-3">5</tspan></text>
  </g>
</g>
<path d="M186,1103.3 V1296 M183,1127 H186 M183,1160 H186 M183,1200 H186 M183,1241 H186 M183,1260 H186 M183,1282 H186 M184,1140 H186 M184,1150 H186 M184,1170 H186 M184,1180 H186 M184,1190 H186 M184,1210 H186 M184,1220 H186 M184,1230 H186 M184,1250 H186 M184,1270 H186" stroke="#000" stroke-width="0.8"/>
<g stroke="#000" stroke-width="0.8">
  <path d="M198,1296 V1301 M202,1296 V1300 M205,1296 V1300 M208,1296 V1301 M211,1296 V1300 M214,1296 V1301 M216,1296 V1301 M219,1296 V1300 M222,1296 V1300 M240,1296 V1299 M252,1296 V1299 M262,1296 V1299 M268,1296 V1299 M273.6,1296 V1301 M290,1296 V1299 M300,1296 V1299 M308,1296 V1299 M314,1296 V1299 M322,1296 V1301 M338,1296 V1299 M348,1296 V1299 M356,1296 V1299 M365,1296 V1301"/>
  <path d="M397,1296 V1301 M401,1296 V1300 M404,1296 V1300 M407,1296 V1301 M410,1296 V1300 M413,1296 V1301 M415,1296 V1301 M418,1296 V1300 M421,1296 V1300 M439,1296 V1299 M451,1296 V1299 M461,1296 V1299 M467,1296 V1299 M472.8,1296 V1301 M489,1296 V1299 M499,1296 V1299 M507,1296 V1299 M513,1296 V1299 M521,1296 V1301 M537,1296 V1299 M547,1296 V1299 M555,1296 V1299 M564,1296 V1301"/>
  <path d="M594,1296 V1301 M598,1296 V1300 M601,1296 V1300 M604,1296 V1301 M607,1296 V1300 M610,1296 V1301 M612,1296 V1301 M615,1296 V1300 M618,1296 V1300 M636,1296 V1299 M648,1296 V1299 M658,1296 V1299 M664,1296 V1299 M671.2,1296 V1301 M687,1296 V1299 M697,1296 V1299 M705,1296 V1299 M711,1296 V1299 M719,1296 V1301 M735,1296 V1299 M745,1296 V1299 M753,1296 V1299 M762,1296 V1301"/>
</g>

<!-- ================= Bar chart: IL-6 ================= -->
<text transform="translate(440.5,872.5) rotate(-90)" font-size="19" text-anchor="middle" textLength="214" lengthAdjust="spacingAndGlyphs">Relative IL-6 mRNA Level</text>
<rect x="497.7" y="894.6" width="44.4" height="88" fill="#b5d1cc"/>
<rect x="563.9" y="888.9" width="44.4" height="93.7" fill="#f07f6e"/>
<rect x="630.2" y="817.5" width="44.4" height="165.1" fill="#c7c3e0"/>
<path d="M476.2,761.5 V982.6 H697.2" stroke="#000" stroke-width="2.6" fill="none"/>
<path d="M471,761.5 H476.2 M471,805.9 H476.2 M471,850.2 H476.2 M471,894.6 H476.2 M471,938.7 H476.2 M471,982.6 H476.2 M519.9,982.6 V987 M586.1,982.6 V987 M652.4,982.6 V987" stroke="#000" stroke-width="2.2"/>
<g font-size="16" text-anchor="end">
  <text x="469" y="767.5">2.5</text><text x="469" y="811.9">2.0</text><text x="469" y="856.2">1.5</text>
  <text x="469" y="900.6">1.0</text><text x="469" y="944.7">0.5</text><text x="469" y="988.6">0.0</text>
</g>
<g stroke="#000" stroke-width="2.4" fill="none">
  <path d="M505,893.8 H535"/>
  <path d="M586.1,880.9 V896.9 M575.4,880.9 H596.9 M575.4,896.9 H596.9"/>
  <path d="M652.4,804.8 V829.4 M641.7,804.8 H663.1 M641.7,829.4 H663.1"/>
</g>
<g fill="#000">
  <circle cx="507.3" cy="893" r="4.8"/><circle cx="519.9" cy="894.3" r="4.8"/><circle cx="532.4" cy="896" r="4.8"/>
  <rect x="581.1" y="875" width="10" height="10"/><rect x="572.2" y="888.4" width="10" height="10"/><rect x="591.9" y="890.2" width="10" height="10"/>
  <path d="M643.4,801 L648,810 L638.8,810 Z M663.9,810.7 L668.5,819.7 L659.3,819.7 Z M652.4,826 L657,835 L647.8,835 Z"/>
</g>
<path d="M520.6,799.7 H651.3" stroke="#000" stroke-width="2.6"/>
<text x="584.3" y="803" font-size="14" text-anchor="middle">***</text>
<g font-size="16" text-anchor="middle">
  <text x="519.9" y="1001">Con</text>
  <text x="586.1" y="1001">EXO<tspan font-size="12" dy="-6">con</tspan></text>
  <text x="655" y="1001">EXO<tspan font-size="12" dy="-6">cisp</tspan></text>
</g>

<!-- ================= Bar chart: TNF-α ================= -->
<text transform="translate(727,872) rotate(-90)" font-size="19" text-anchor="middle" textLength="238" lengthAdjust="spacingAndGlyphs">Relative TNF-α mRNA Level</text>
<rect x="784.2" y="939.6" width="43.7" height="43.5" fill="#b5d1cc"/>
<rect x="850.5" y="930.2" width="43.7" height="52.9" fill="#f07f6e"/>
<rect x="916.7" y="830.3" width="44.5" height="152.8" fill="#c7c3e0"/>
<path d="M762.7,761.5 V983.1 H984" stroke="#000" stroke-width="2.6" fill="none"/>
<path d="M757.5,761.5 H762.7 M757.5,805.9 H762.7 M757.5,850.2 H762.7 M757.5,894.6 H762.7 M757.5,939 H762.7 M757.5,983.1 H762.7 M805.7,983.1 V987.5 M872,983.1 V987.5 M938.9,983.1 V987.5" stroke="#000" stroke-width="2.2"/>
<g font-size="16" text-anchor="end">
  <text x="756" y="767.5">1.8</text><text x="756" y="811.9">1.6</text><text x="756" y="856.2">1.4</text>
  <text x="756" y="900.6">1.2</text><text x="756" y="945">1.0</text><text x="756" y="989.1">0.8</text>
</g>
<g stroke="#000" stroke-width="2.4" fill="none">
  <path d="M790,939.5 H819"/>
  <path d="M872,913.3 V946.2 M861.3,913.3 H882.7 M861.3,946.2 H882.7"/>
  <path d="M938.9,810.4 V849.3 M928.2,810.4 H949.6 M928.2,849.3 H949.6"/>
</g>
<g fill="#000">
  <circle cx="790.3" cy="938.7" r="4.8"/><circle cx="804.6" cy="939.2" r="4.8"/><circle cx="819" cy="940.5" r="4.8"/>
  <rect x="867" y="905.3" width="10" height="10"/><rect x="856.2" y="931.9" width="10" height="10"/><rect x="877.4" y="936.4" width="10" height="10"/>
  <path d="M938.9,805.7 L943.5,814.7 L934.3,814.7 Z M938.9,827 L943.5,836 L934.3,836 Z M938.9,844.8 L943.5,853.8 L934.3,853.8 Z"/>
</g>
<path d="M807.5,804.8 H937.2" stroke="#000" stroke-width="2.6"/>
<text x="870.9" y="808" font-size="14" text-anchor="middle">***</text>
<g font-size="16" text-anchor="middle">
  <text x="805.7" y="1001">Con</text>
  <text x="872" y="1001">EXO<tspan font-size="12" dy="-6">con</tspan></text>
  <text x="941" y="1001">EXO<tspan font-size="12" dy="-6">cisp</tspan></text>
</g>

<!-- ================= Bar chart: IL-1β ================= -->
<text transform="translate(1013,871.6) rotate(-90)" font-size="19" text-anchor="middle" textLength="226" lengthAdjust="spacingAndGlyphs">Relative IL-1β mRNA Level</text>
<rect x="1056.6" y="935.7" width="44.4" height="47.4" fill="#b5d1cc"/>
<rect x="1123.1" y="930.2" width="44.4" height="52.9" fill="#f07f6e"/>
<rect x="1189.6" y="812.1" width="44" height="171" fill="#c7c3e0"/>
<path d="M1034.4,761.5 V983.1 H1257.3" stroke="#000" stroke-width="2.6" fill="none"/>
<path d="M1029.2,761.5 H1034.4 M1029.2,805.9 H1034.4 M1029.2,850.2 H1034.4 M1029.2,894.6 H1034.4 M1029.2,939 H1034.4 M1029.2,983.1 H1034.4 M1079.1,983.1 V987.5 M1145.3,983.1 V987.5 M1211.8,983.1 V987.5" stroke="#000" stroke-width="2.2"/>
<g font-size="16" text-anchor="end">
  <text x="1029" y="767.5">5</text><text x="1029" y="811.9">4</text><text x="1029" y="856.2">3</text>
  <text x="1029" y="900.6">2</text><text x="1029" y="945">1</text><text x="1029" y="989.1">0</text>
</g>
<g stroke="#000" stroke-width="2.4" fill="none">
  <path d="M1079.1,932.1 V938.2 M1068.4,932.1 H1089.8 M1068.4,938.2 H1089.8"/>
  <path d="M1145.3,920.9 V938.2 M1134.6,920.9 H1156 M1134.6,938.2 H1156"/>
  <path d="M1211.8,784.1 V840 M1201,784.1 H1222.6 M1201,840 H1222.6"/>
</g>
<g fill="#000">
  <circle cx="1064.6" cy="931.6" r="4.8"/><circle cx="1079.1" cy="936" r="4.8"/><circle cx="1093" cy="938.7" r="4.8"/>
  <rect x="1140.3" y="915" width="10" height="10"/><rect x="1129.8" y="924.8" width="10" height="10"/><rect x="1151.2" y="933.7" width="10" height="10"/>
  <path d="M1211.8,780 L1216.4,789 L1207.2,789 Z M1211.8,809.3 L1216.4,818.3 L1207.2,818.3 Z M1211.8,835 L1216.4,844 L1207.2,844 Z"/>
</g>
<path d="M1073.7,779.3 H1200.2" stroke="#000" stroke-width="2.6"/>
<text x="1134.4" y="783" font-size="14" text-anchor="middle">**</text>
<g font-size="16" text-anchor="middle">
  <text x="1079.1" y="1001">Con</text>
  <text x="1145.3" y="1001">EXO<tspan font-size="12" dy="-6">con</tspan></text>
  <text x="1214" y="1001">EXO<tspan font-size="12" dy="-6">cisp</tspan></text>
</g>

<!-- ================= Bar chart: MCP-1 ================= -->
<text transform="translate(1283.8,872) rotate(-90)" font-size="19" text-anchor="middle" textLength="240" lengthAdjust="spacingAndGlyphs">Relative MCP-1 mRNA Level</text>
<rect x="1340.9" y="931.6" width="44.3" height="51.5" fill="#b5d1cc"/>
<rect x="1407.4" y="924.5" width="44.3" height="58.6" fill="#f07f6e"/>
<rect x="1473.9" y="804.5" width="44.3" height="178.6" fill="#c7c3e0"/>
<path d="M1319,761.5 V983.1 H1540.7" stroke="#000" stroke-width="2.6" fill="none"/>
<path d="M1313.8,761.5 H1319 M1313.8,816.9 H1319 M1313.8,872.4 H1319 M1313.8,927.7 H1319 M1313.8,983.1 H1319 M1362.7,983.1 V987.5 M1429.2,983.1 V987.5 M1496,983.1 V987.5" stroke="#000" stroke-width="2.2"/>
<g font-size="16" text-anchor="end">
  <text x="1313" y="767.5">1.6</text><text x="1313" y="822.9">1.4</text><text x="1313" y="878.4">1.2</text>
  <text x="1313" y="933.7">1.0</text><text x="1313" y="989.1">0.8</text>
</g>
<g stroke="#000" stroke-width="2.4" fill="none">
  <path d="M1362.7,923.6 V937.8 M1352,923.6 H1373.4 M1352,937.8 H1373.4"/>
  <path d="M1429.2,898.7 V949.4 M1418.5,898.7 H1439.9 M1418.5,949.4 H1439.9"/>
  <path d="M1496,776.1 V832.9 M1485.3,776.1 H1506.7 M1485.3,832.9 H1506.7"/>
</g>
<g fill="#000">
  <circle cx="1348.8" cy="926.3" r="4.8"/><circle cx="1362.7" cy="928" r="4.8"/><circle cx="1377.2" cy="938.7" r="4.8"/>
  <rect x="1424.2" y="892.8" width="10" height="10"/><rect x="1424.2" y="920.4" width="10" height="10"/><rect x="1424.2" y="945.3" width="10" height="10"/>
  <path d="M1485.2,779.1 L1489.8,788.1 L1480.6,788.1 Z M1507,787.1 L1511.6,796.1 L1502.4,796.1 Z M1496,831.5 L1500.6,840.5 L1491.4,840.5 Z"/>
</g>
<path d="M1345.6,772.1 H1493.5" stroke="#000" stroke-width="2.6"/>
<text x="1422.6" y="776" font-size="14" text-anchor="middle">**</text>
<g font-size="16" text-anchor="middle">
  <text x="1362.7" y="1001">Con</text>
  <text x="1429.2" y="1001">EXO<tspan font-size="12" dy="-6">con</tspan></text>
  <text x="1498" y="1001">EXO<tspan font-size="12" dy="-6">cisp</tspan></text>
</g>

<!-- ================= Bar chart: CD11c ================= -->
<text transform="translate(852.3,1198) rotate(-90)" font-size="21" text-anchor="middle" textLength="234" lengthAdjust="spacingAndGlyphs">The Rate of CD11c+ (%)</text>
<rect x="902.1" y="1222.2" width="49.8" height="100.5" fill="#b5d1cc"/>
<rect x="977.3" y="1219.3" width="49.3" height="103.4" fill="#f07f6e"/>
<rect x="1051.9" y="1134.2" width="49.8" height="188.5" fill="#c7c3e0"/>
<path d="M877.7,1074 V1322.7 H1126.6" stroke="#000" stroke-width="2.8" fill="none"/>
<path d="M872.5,1074 H877.7 M872.5,1136.2 H877.7 M872.5,1198.4 H877.7 M872.5,1260.5 H877.7 M872.5,1322.7 H877.7 M927,1322.7 V1327.5 M1002.1,1322.7 V1327.5 M1076.3,1322.7 V1327.5" stroke="#000" stroke-width="2.3"/>
<g font-size="17" text-anchor="end">
  <text x="872" y="1080">8</text><text x="872" y="1142.2">6</text><text x="872" y="1204.4">4</text>
  <text x="872" y="1266.5">2</text><text x="872" y="1328.7">0</text>
</g>
<g stroke="#000" stroke-width="2.6" fill="none">
  <path d="M927,1204.3 V1239.9 M915,1204.3 H939 M915,1239.9 H939"/>
  <path d="M1002.1,1206.9 V1230.8 M990.1,1206.9 H1014.1 M990.1,1230.8 H1014.1"/>
  <path d="M1076.3,1117.6 V1150.3 M1064.3,1117.6 H1088.3 M1064.3,1150.3 H1088.3"/>
</g>
<g fill="#000">
  <circle cx="927" cy="1201" r="5.5"/><circle cx="915.3" cy="1229.1" r="5.5"/><circle cx="937.8" cy="1235" r="5.5"/>
  <rect x="996.6" y="1201.4" width="11" height="11"/><rect x="983.5" y="1214.1" width="11" height="11"/><rect x="1008.4" y="1225.9" width="11" height="11"/>
  <path d="M1064.1,1117.5 L1069.1,1128.5 L1059.1,1128.5 Z M1089,1119.4 L1094,1130.4 L1084,1130.4 Z M1076.3,1147.9 L1081.3,1158.9 L1071.3,1158.9 Z"/>
</g>
<path d="M915.3,1115 H1068.8" stroke="#000" stroke-width="2.8"/>
<text x="985.7" y="1118" font-size="15" text-anchor="middle">**</text>
<g font-size="18" text-anchor="middle">
  <text x="927" y="1344.3">Con</text>
  <text x="1002.1" y="1344.3">EXO<tspan font-size="13" dy="-7">con</tspan></text>
  <text x="1079" y="1344.3">EXO<tspan font-size="13" dy="-7">cisp</tspan></text>
</g>

<!-- ================= Bar chart: CD206 ================= -->
<text transform="translate(1209.2,1198) rotate(-90)" font-size="21" text-anchor="middle" textLength="234" lengthAdjust="spacingAndGlyphs">The Rate of CD206+ (%)</text>
<rect x="1269.8" y="1106.8" width="49.8" height="215.9" fill="#b5d1cc"/>
<rect x="1344" y="1110.7" width="50.3" height="212" fill="#f07f6e"/>
<rect x="1419.1" y="1204.3" width="49.4" height="118.4" fill="#c7c3e0"/>
<path d="M1245.4,1074 V1322.7 H1494.3" stroke="#000" stroke-width="2.8" fill="none"/>
<path d="M1240.2,1074 H1245.4 M1240.2,1123.4 H1245.4 M1240.2,1173.1 H1245.4 M1240.2,1223 H1245.4 M1240.2,1272.6 H1245.4 M1240.2,1322.7 H1245.4 M1294.2,1322.7 V1327.5 M1369.4,1322.7 V1327.5 M1443.6,1322.7 V1327.5" stroke="#000" stroke-width="2.3"/>
<g font-size="17" text-anchor="end">
  <text x="1241" y="1080">25</text><text x="1241" y="1129.4">20</text><text x="1241" y="1179.1">15</text>
  <text x="1241" y="1229">10</text><text x="1241" y="1278.6">5</text><text x="1241" y="1328.7">0</text>
</g>
<g stroke="#000" stroke-width="2.6" fill="none">
  <path d="M1294.2,1089.7 V1123.1 M1282.2,1089.7 H1306.2 M1282.2,1123.1 H1306.2"/>
  <path d="M1369.4,1106.4 V1115 M1357.4,1106.4 H1381.4 M1357.4,1115 H1381.4"/>
  <path d="M1443.6,1192.6 V1215.7 M1431.6,1192.6 H1455.6 M1431.6,1215.7 H1455.6"/>
</g>
<g fill="#000">
  <circle cx="1281.5" cy="1096.9" r="5.5"/><circle cx="1306.4" cy="1097.5" r="5.5"/><circle cx="1294.2" cy="1126.4" r="5.5"/>
  <rect x="1346.5" y="1099.3" width="11" height="11"/><rect x="1363.9" y="1106.6" width="11" height="11"/><rect x="1379.4" y="1109.7" width="11" height="11"/>
  <path d="M1443.6,1184.7 L1448.6,1195.7 L1438.6,1195.7 Z M1431.8,1203.4 L1436.8,1214.4 L1426.8,1214.4 Z M1455.3,1208.3 L1460.3,1219.3 L1450.3,1219.3 Z"/>
</g>
<path d="M1286.3,1081.6 H1453" stroke="#000" stroke-width="2.8"/>
<text x="1369.4" y="1082" font-size="15" text-anchor="middle">**</text>
<g font-size="18" text-anchor="middle">
  <text x="1294.2" y="1344.3">Con</text>
  <text x="1369.4" y="1344.3">EXO<tspan font-size="13" dy="-7">con</tspan></text>
  <text x="1446" y="1344.3">EXO<tspan font-size="13" dy="-7">Cisp</tspan></text>
</g>
</svg>
</body></html>
